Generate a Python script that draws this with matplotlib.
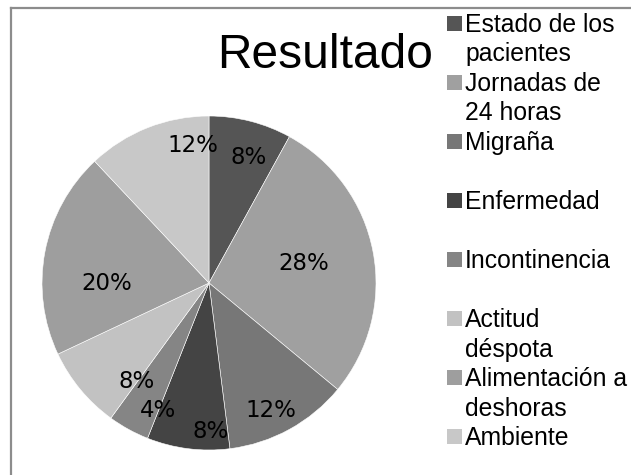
import numpy as np
import matplotlib.pyplot as plt
from matplotlib.patches import Rectangle
from matplotlib.lines import Line2D

# Datos del gráfico (porcentajes en el sentido de las agujas del reloj)
categorias = ["Estado de los\npacientes", "Jornadas de\n24 horas", "Migraña",
              "Enfermedad", "Incontinencia", "Actitud\ndéspota",
              "Alimentación a\ndeshoras", "Ambiente"]
valores = [8, 28, 12, 8, 4, 8, 20, 12]

# Estilo
colores = ["#555555", "#a0a0a0", "#777777", "#444444",
           "#858585", "#c2c2c2", "#9e9e9e", "#c8c8c8"]
dist_etiqueta = [0.79, 0.58, 0.85, 0.89, 0.82, 0.73, 0.61, 0.83]
giro_etiqueta = [3, -1, 3, -8, -7, -14, -11, 15]
huecos = {2, 3, 4}  # línea en blanco tras estas entradas de la leyenda
FUENTE_NUM = ["Liberation Sans Narrow", "DejaVu Sans"]
FUENTE = ["Liberation Sans", "DejaVu Sans"]

W, H = 631, 475
fig = plt.figure(figsize=(W / 100, H / 100), dpi=100, facecolor="white")

# Borde gris (solo arriba e izquierda visibles)
fig.add_artist(Line2D([11 / W, 11 / W], [0, 1 - 8 / H], color="#8c8c8c", lw=1.6,
                      transform=fig.transFigure))
fig.add_artist(Line2D([11 / W, 1], [1 - 8 / H, 1 - 8 / H], color="#8c8c8c", lw=1.6,
                      transform=fig.transFigure))

cx, cy, r = 209, 283, 167
ax = fig.add_axes([(cx - r) / W, (H - cy - r) / H, 2 * r / W, 2 * r / H])
wedges, _ = ax.pie(valores, colors=colores, startangle=90, counterclock=False,
                   wedgeprops=dict(edgecolor="white", linewidth=0.4))
ax.set_xlim(-1, 1)
ax.set_ylim(-1, 1)
ax.set_aspect("equal")

total = sum(valores)
acum = 0
for v, d, g in zip(valores, dist_etiqueta, giro_etiqueta):
    theta = np.deg2rad((acum + v / 2) / total * 360 + g)
    acum += v
    ax.text(d * np.sin(theta), d * np.cos(theta), f"{v / total:.0%}",
            ha="center", va="center", fontsize=16.5, family=FUENTE_NUM, color="black")

fig.text(325 / W, 1 - 56 / H, "Resultado", ha="center", va="center",
         fontsize=34.5, family=FUENTE, color="black")

# Leyenda manual
paso = 29.5
linea = 0
for i, (cat, col) in enumerate(zip(categorias, colores)):
    base = 32 + paso * linea
    fig.add_artist(Rectangle((447 / W, 1 - (base - 1) / H), 15 / W, 15 / H,
                             facecolor=col, edgecolor="none", transform=fig.transFigure))
    for j, txt in enumerate(cat.split("\n")):
        fig.text(465 / W, 1 - (base + paso * j) / H, txt, ha="left", va="baseline",
                 fontsize=17.8, family=FUENTE, color="black")
    linea += cat.count("\n") + 1
    if i in huecos:
        linea += 1

fig.savefig("out.png", dpi=100, facecolor=fig.get_facecolor())
plt.close(fig)
